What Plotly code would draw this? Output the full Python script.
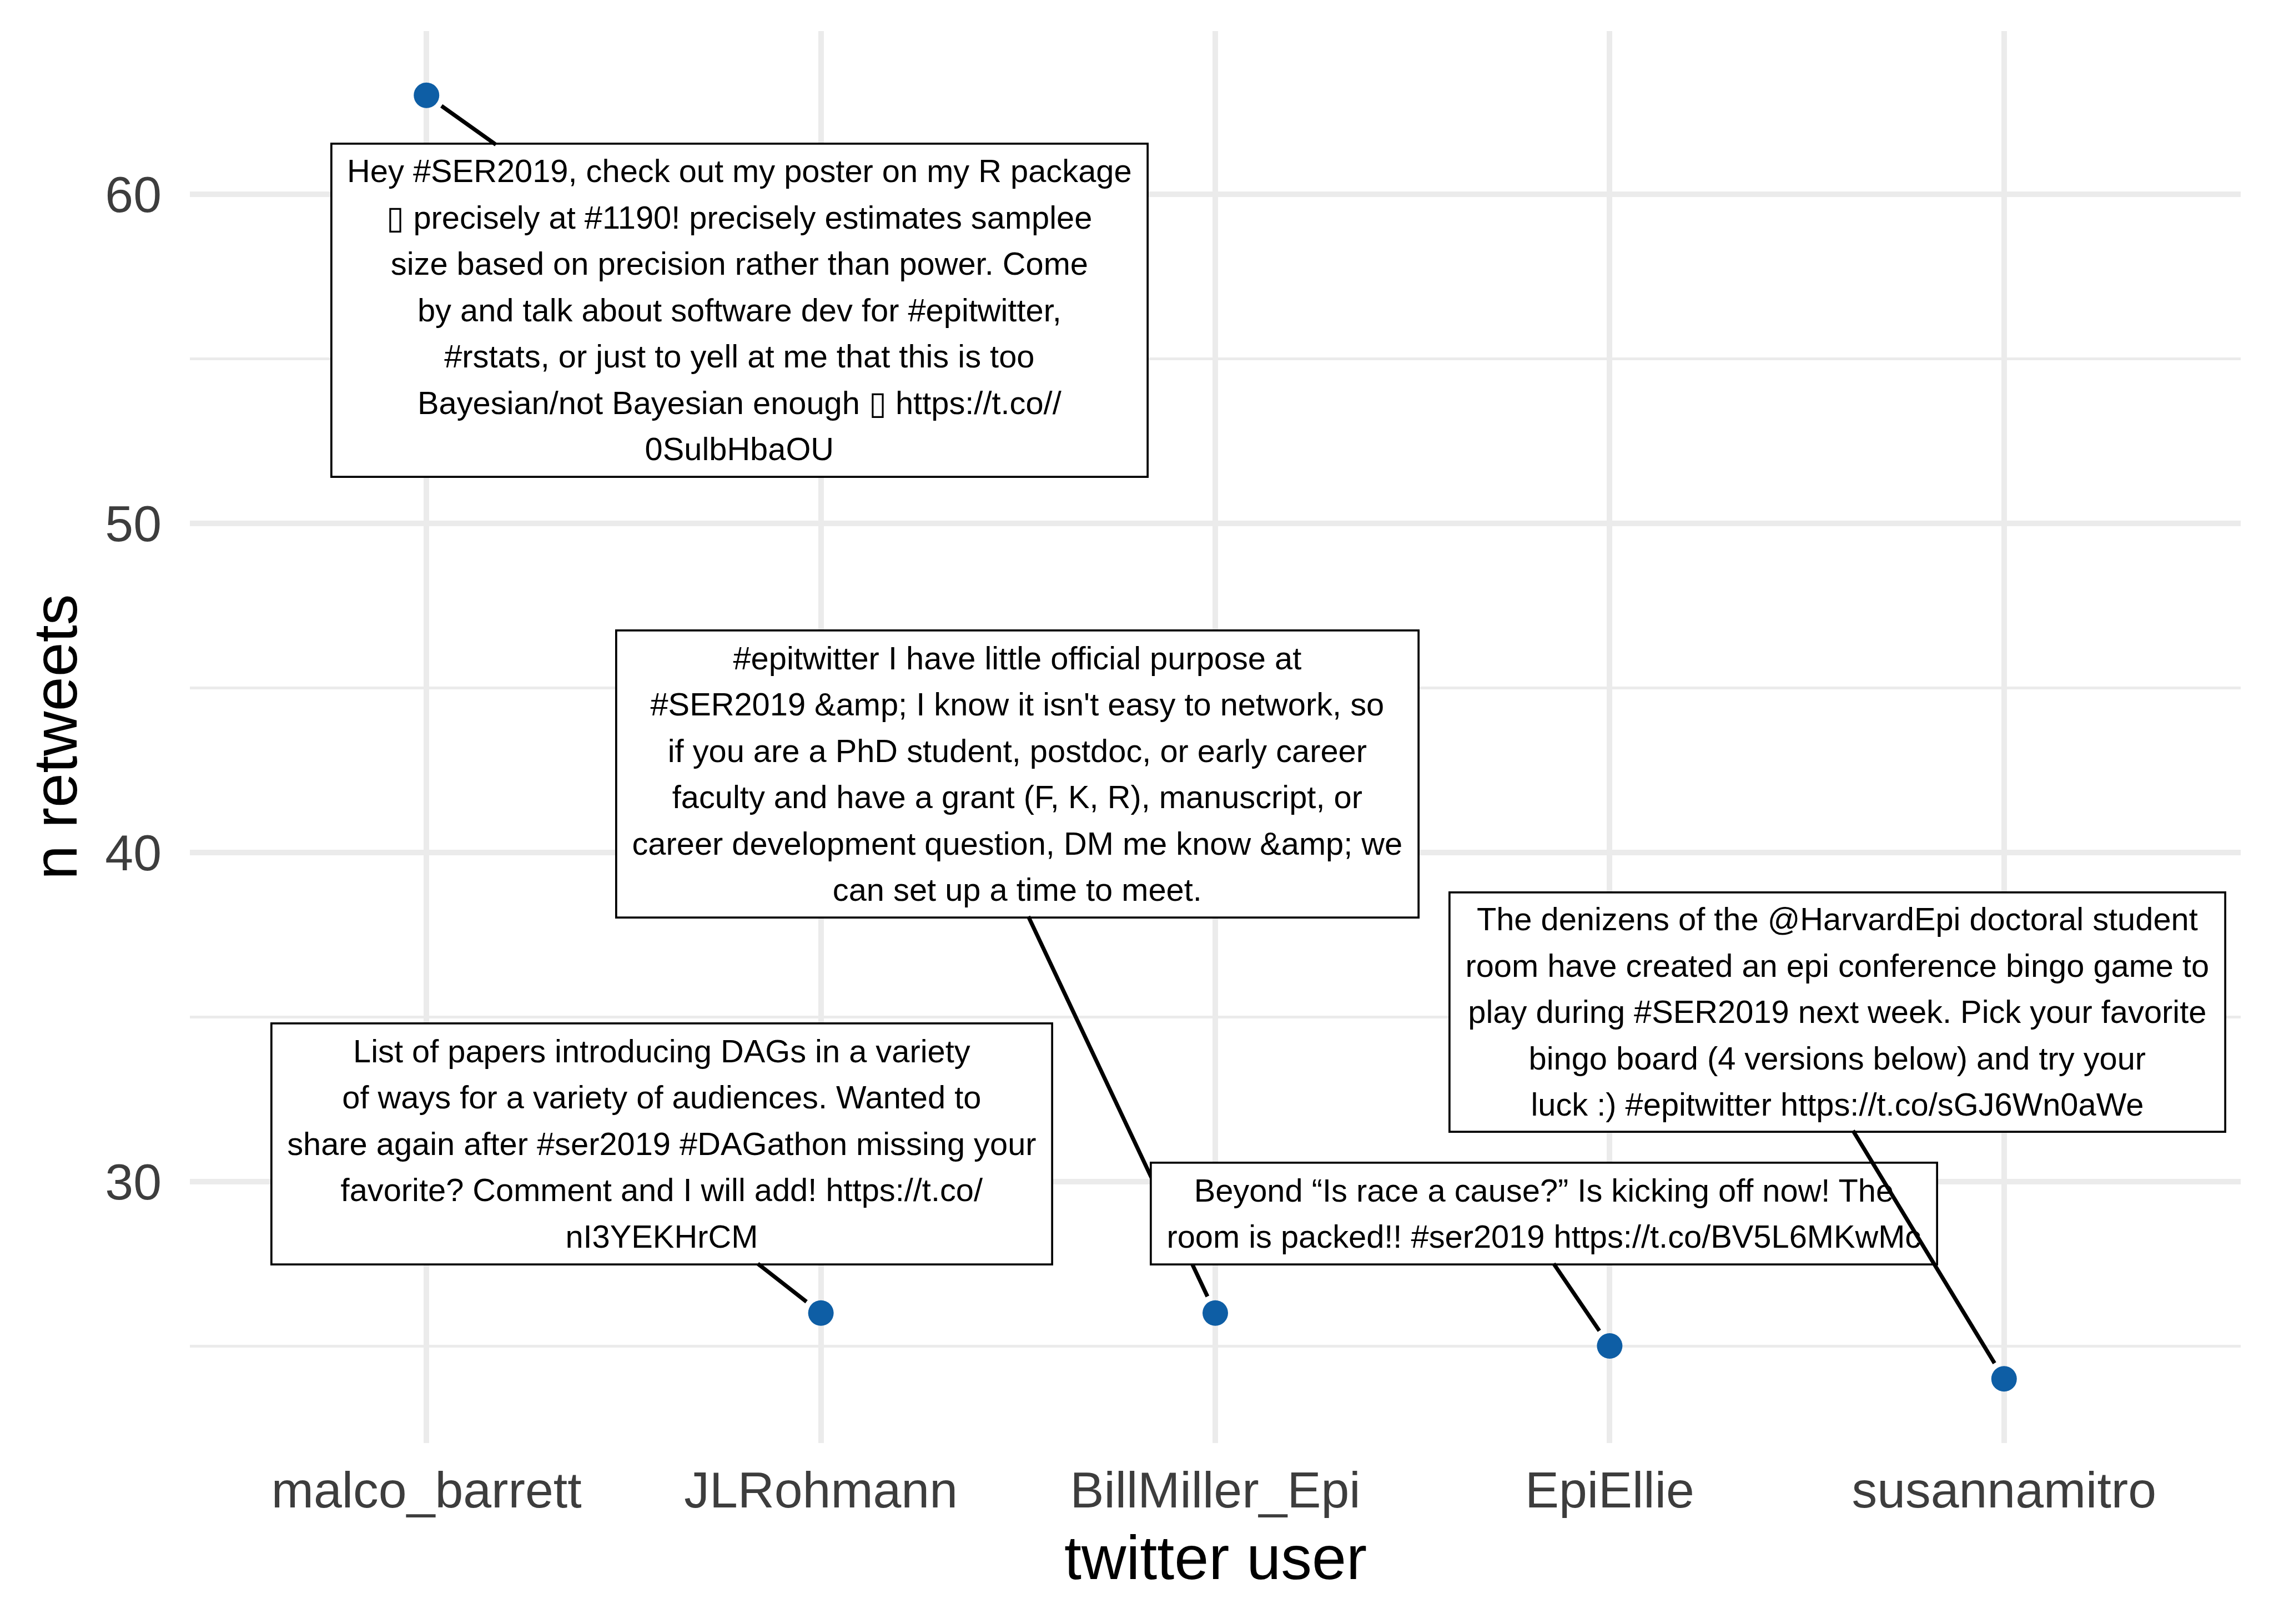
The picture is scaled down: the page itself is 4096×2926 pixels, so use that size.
import plotly.graph_objects as go

# ---------------- data ----------------
users = ["malco_barrett", "JLRohmann", "BillMiller_Epi", "EpiEllie", "susannamitro"]
retweets = [63, 26, 26, 25, 24]

tweet_malco = [
    "Hey #SER2019, check out my poster on my R package",
    "\u25af precisely at #1190! precisely estimates samplee",
    "size based on precision rather than power. Come",
    "by and talk about software dev for #epitwitter,",
    "#rstats, or just to yell at me that this is too",
    "Bayesian/not Bayesian enough \u25af https://t.co//",
    "0SulbHbaOU",
]
tweet_jl = [
    "List of papers introducing DAGs in a variety",
    "of ways for a variety of audiences. Wanted to",
    "share again after #ser2019 #DAGathon missing your",
    "favorite? Comment and I will add! https://t.co/",
    "nI3YEKHrCM",
]
tweet_bill = [
    "#epitwitter I have little official purpose at",
    "#SER2019 &amp;amp; I know it isn't easy to network, so",
    "if you are a PhD student, postdoc, or early career",
    "faculty and have a grant (F, K, R), manuscript, or",
    "career development question, DM me know &amp;amp; we",
    "can set up a time to meet.",
]
tweet_ellie = [
    "Beyond \u201cIs race a cause?\u201d Is kicking off now! The",
    "room is packed!! #ser2019 https://t.co/BV5L6MKwMc",
]
tweet_susanna = [
    "The denizens of the @HarvardEpi doctoral student",
    "room have created an epi conference bingo game to",
    "play during #SER2019 next week. Pick your favorite",
    "bingo board (4 versions below) and try your",
    "luck :) #epitwitter https://t.co/sGJ6Wn0aWe",
]
tweets = [tweet_malco, tweet_jl, tweet_bill, tweet_ellie, tweet_susanna]

y_ticks = [30, 40, 50, 60]
y_minor = [25, 35, 45, 55]

# label placement (layout, in axis units) and box sizes (px)
label_x = [0.794, 0.596, 1.498, 2.833, 3.578]
label_y = [56.47, 31.14, 42.38, 29.02, 35.15]
box_w = [1470, 1406, 1445, 1416, 1397]
box_h = [600, 434, 517, 183, 431]
# where each leader segment leaves its label box (axis units)
seg_x = [0.176, 0.840, 1.526, 2.858, 3.617]
seg_y = [61.50, 27.50, 38.05, 27.50, 31.54]

FONT = "Liberation Sans, Arial, Helvetica, sans-serif"
W, H = 4096, 2926
ML, MR, MT, MB = 342, 60, 56, 326
BW = 3.7

fig = go.Figure()
fig.add_trace(go.Scatter(
    x=users, y=retweets, mode="markers",
    marker=dict(size=46, color="#0E5EA5", line=dict(width=0)),
    cliponaxis=False, showlegend=False, hoverinfo="skip",
))

annotations = []
for u, v, lines, lx, ly, bw, bh, sx, sy in zip(users, retweets, tweets, label_x, label_y,
                                               box_w, box_h, seg_x, seg_y):
    txt = "<br>".join('<span style="font-size:57.8px">%s</span>' % ln for ln in lines)
    # label box
    annotations.append(dict(
        x=lx, y=ly, xref="x", yref="y", showarrow=False,
        xanchor="center", yanchor="middle",
        text=txt,
        font=dict(family=FONT, size=64.2, color="black"),
        align="center", valign="middle",
        bgcolor="white", bordercolor="black", borderwidth=BW, borderpad=0,
        width=bw - BW, height=bh - BW,
    ))
    # leader segment
    annotations.append(dict(
        x=u, y=v, xref="x", yref="y",
        ax=sx, ay=sy, axref="x", ayref="y",
        text=" ", font=dict(size=1, color="rgba(0,0,0,0)"),
        showarrow=True, arrowhead=0, arrowwidth=7.2,
        arrowcolor="black", standoff=33,
        bgcolor="rgba(0,0,0,0)", borderwidth=0, borderpad=0,
    ))

# axis titles
annotations.append(dict(
    text="twitter user", xref="paper", yref="paper", x=0.5, y=0,
    xanchor="center", yanchor="top", yshift=-142, showarrow=False,
    font=dict(family=FONT, size=111.5, color="black"),
))
annotations.append(dict(
    text="n retweets", xref="paper", yref="paper", x=0, y=0.5,
    xanchor="center", yanchor="middle", xshift=-243, textangle=-90, showarrow=False,
    font=dict(family=FONT, size=111.5, color="black"),
))

fig.update_layout(
    width=W, height=H,
    margin=dict(l=ML, r=MR, t=MT, b=MB, pad=0),
    paper_bgcolor="white", plot_bgcolor="white",
    annotations=annotations,
    xaxis=dict(
        type="category", range=[-0.6, 4.6], showgrid=True, gridcolor="#EBEBEB",
        gridwidth=10, zeroline=False, showline=False, ticks="",
        tickfont=dict(family=FONT, size=91.4, color="#3D3D3D"),
        ticklabelstandoff=24, automargin=False, fixedrange=True,
    ),
    yaxis=dict(
        range=[22.05, 64.95], tickvals=y_ticks, showgrid=True, gridcolor="#EBEBEB",
        gridwidth=10, zeroline=False, showline=False, ticks="",
        tickfont=dict(family=FONT, size=91.4, color="#3D3D3D"),
        ticklabelstandoff=50, automargin=False, fixedrange=True,
        minor=dict(tickvals=y_minor, showgrid=True, gridcolor="#EBEBEB", gridwidth=5),
    ),
    showlegend=False,
)

fig.write_html("out.html")
